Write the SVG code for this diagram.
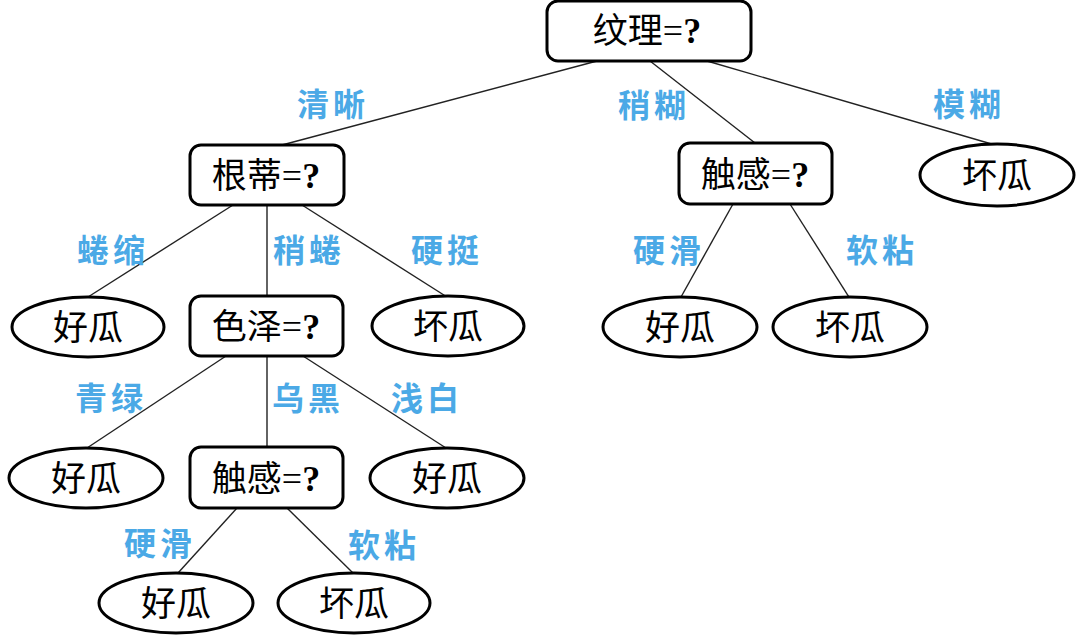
<svg xmlns="http://www.w3.org/2000/svg" width="1086" height="642" viewBox="0 0 1086 642">
<style>
.box{fill:#fff;stroke:#000;stroke-width:3}
.leaf{fill:#fff;stroke:#000;stroke-width:3}
.edge{stroke:#222;stroke-width:1.4;fill:none}
.t{font-family:"Noto Sans CJK SC","Noto Sans",sans-serif;font-size:35px;fill:#000;text-anchor:middle}
.s{font-family:"Liberation Serif",serif;font-size:36px}
.q{font-family:"Liberation Serif",serif;font-weight:bold;font-size:36px}
.lbl{font-family:"Noto Sans CJK SC","Noto Sans",sans-serif;font-size:32px;font-weight:bold;fill:#4ba9e6;text-anchor:middle;letter-spacing:4px}
</style>
<rect width="1086" height="642" fill="#fff"/>
<g id="connectors">
<line class="edge" x1="597" y1="61" x2="282" y2="145"/>
<line class="edge" x1="650" y1="61" x2="755" y2="143"/>
<line class="edge" x1="707" y1="61" x2="995" y2="145"/>
<line class="edge" x1="233" y1="205" x2="88" y2="297"/>
<line class="edge" x1="267" y1="205" x2="267" y2="296"/>
<line class="edge" x1="302" y1="205" x2="447" y2="297"/>
<line class="edge" x1="226" y1="356" x2="87" y2="448"/>
<line class="edge" x1="267" y1="356" x2="267" y2="447"/>
<line class="edge" x1="303" y1="356" x2="446" y2="448"/>
<line class="edge" x1="237" y1="508" x2="178" y2="573"/>
<line class="edge" x1="287" y1="508" x2="353" y2="573"/>
<line class="edge" x1="733" y1="204" x2="681" y2="297"/>
<line class="edge" x1="790" y1="204" x2="849" y2="297"/>
</g>
<g id="labels">
<text class="lbl" x="333" y="116">清晰</text>
<text class="lbl" x="654" y="117">稍糊</text>
<text class="lbl" x="969" y="116">模糊</text>
<text class="lbl" x="113" y="262">蜷缩</text>
<text class="lbl" x="309" y="262">稍蜷</text>
<text class="lbl" x="447" y="262">硬挺</text>
<text class="lbl" x="669" y="262">硬滑</text>
<text class="lbl" x="882" y="262">软粘</text>
<text class="lbl" x="111" y="410">青绿</text>
<text class="lbl" x="308" y="410">乌黑</text>
<text class="lbl" x="427" y="410">浅白</text>
<text class="lbl" x="160" y="555">硬滑</text>
<text class="lbl" x="384" y="557">软粘</text>
</g>
<g id="n-root">
<rect class="box" x="547" y="1" width="204" height="60" rx="11"/>
<text class="t" x="647" y="43">纹理<tspan class="s">=</tspan><tspan class="q">?</tspan></text>
</g>
<g id="n-gendi">
<rect class="box" x="190" y="145" width="154" height="60" rx="11"/>
<text class="t" x="266" y="188">根蒂<tspan class="s">=</tspan><tspan class="q">?</tspan></text>
</g>
<g id="n-chugan-r">
<rect class="box" x="679" y="143" width="153" height="61" rx="11"/>
<text class="t" x="755" y="187">触感<tspan class="s">=</tspan><tspan class="q">?</tspan></text>
</g>
<g id="n-huai-r">
<ellipse class="leaf" cx="997" cy="175" rx="77" ry="31"/>
<text class="t" x="997" y="188">坏瓜</text>
</g>
<g id="n-hao-1">
<ellipse class="leaf" cx="88" cy="327" rx="76" ry="30"/>
<text class="t" x="88" y="340">好瓜</text>
</g>
<g id="n-seze">
<rect class="box" x="190" y="296" width="153" height="60" rx="11"/>
<text class="t" x="266" y="339">色泽<tspan class="s">=</tspan><tspan class="q">?</tspan></text>
</g>
<g id="n-huai-1">
<ellipse class="leaf" cx="448" cy="326" rx="76" ry="30"/>
<text class="t" x="448" y="339">坏瓜</text>
</g>
<g id="n-hao-r">
<ellipse class="leaf" cx="680" cy="327" rx="77" ry="30"/>
<text class="t" x="680" y="340">好瓜</text>
</g>
<g id="n-huai-r2">
<ellipse class="leaf" cx="850" cy="327" rx="77" ry="30"/>
<text class="t" x="850" y="340">坏瓜</text>
</g>
<g id="n-hao-2">
<ellipse class="leaf" cx="86" cy="478" rx="77" ry="30"/>
<text class="t" x="86" y="491">好瓜</text>
</g>
<g id="n-chugan-l">
<rect class="box" x="190" y="447" width="153" height="61" rx="11"/>
<text class="t" x="266" y="491">触感<tspan class="s">=</tspan><tspan class="q">?</tspan></text>
</g>
<g id="n-hao-3">
<ellipse class="leaf" cx="447" cy="478" rx="77" ry="30"/>
<text class="t" x="447" y="491">好瓜</text>
</g>
<g id="n-hao-4">
<ellipse class="leaf" cx="176" cy="603" rx="77" ry="30"/>
<text class="t" x="176" y="616">好瓜</text>
</g>
<g id="n-huai-4">
<ellipse class="leaf" cx="354" cy="603" rx="76" ry="30"/>
<text class="t" x="354" y="616">坏瓜</text>
</g>
</svg>
